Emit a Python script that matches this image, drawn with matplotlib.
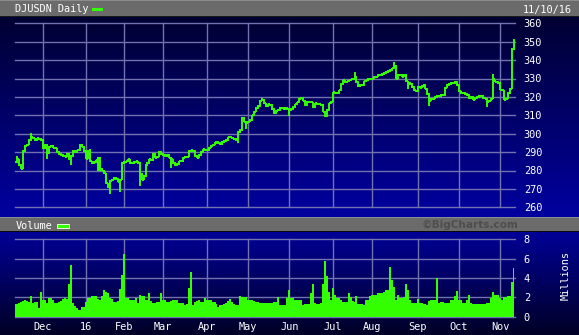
import numpy as np
import pandas as pd
import matplotlib
matplotlib.use('Agg')
import matplotlib.pyplot as plt
from matplotlib.collections import LineCollection
from matplotlib.patches import Rectangle

W, H = 579, 335
GREEN = '#33ff00'
GRID = '#7272b0'
MONO = 'DejaVu Sans Mono'

# ---------------- data ----------------
holidays = ['2015-11-26', '2015-12-25', '2016-01-01', '2016-01-18', '2016-02-15',
            '2016-03-25', '2016-05-30', '2016-07-04', '2016-09-05']
dates = pd.bdate_range('2015-11-10', '2016-11-10', freq='C', holidays=holidays)

close_nov15 = [284.5, 286, 283, 281, 290.5, 293.5, 294, 296.5, 298, 297.5, 296.5, 297.5, 297, 296.5]
close_dec15 = [292, 294, 289.5, 293, 293.5, 292.5, 292, 290, 289, 288.5, 288, 287.5, 289, 286, 288,
               290.5, 290, 291, 291, 294, 293, 290.5]
close_jan16 = [286.5, 290.5, 285, 284, 284.5, 285.5, 287, 281, 280, 278.5, 273, 271, 274.5, 275, 276,
               275.5, 274, 275, 284]
close_feb16 = [284.5, 285, 286, 284, 284, 284.5, 285, 284, 278, 275, 277, 283, 284, 286, 285.5, 289,
               287, 287.5, 290, 289]
close_mar16 = [288.5, 288, 288.5, 287, 286, 284, 283, 283.5, 285, 285, 287, 287.5, 287.5, 290.5, 291,
               290.5, 288, 287, 288.5, 290, 291.5, 291]
close_apr16 = [291, 292.5, 293.5, 294, 295, 295.5, 295, 294.5, 295.5, 296, 296.5, 298, 298, 297.5, 297,
               296.5, 301, 302, 308.5, 306.5, 306]
close_may16 = [306.5, 307.5, 310, 312, 314, 315, 318, 318.5, 316.5, 315, 316, 315.5, 313.5, 311, 312.5,
               313, 314, 314, 313.5, 314, 313.5]
close_jun16 = [313, 313.5, 314.5, 316, 317, 319, 319.5, 318, 315.5, 317.5, 317, 317, 314.5, 316.5, 316,
               316, 315.5, 312, 310.5, 313, 316.5, 317.5]
close_jul16 = [322.5, 322, 322, 323.5, 327, 329, 328, 328.5, 329, 329.5, 330, 331, 328, 326, 326.5,
               326.5, 328.5, 329, 330, 329.5]
close_aug16 = [330, 331, 331, 332, 332, 332.5, 333, 333.5, 334, 334.5, 335.5, 337, 330, 332, 332, 331,
               332, 328.5, 327.5, 327, 325.5, 323.5, 323]
close_sep16 = [325.5, 325, 326, 326.5, 324.5, 321.5, 318, 319, 319, 320, 320.5, 320.5, 321, 321, 325,
               326.5, 327, 327.5, 327.5, 328, 326.5]
close_oct16 = [323, 322, 322, 321.5, 321, 319.5, 320, 318.5, 319.5, 320, 320.5, 320.5, 319.5, 319,
               317.5, 318, 319, 330, 328.5, 328, 327.5]
close_nov16 = [324, 323.5, 318.5, 319, 322, 324.5, 346, 350]

# intraday extremes (high or low) that stick out of the bars
wick_index = [1, 8, 16, 28, 38, 42, 43, 48, 53, 63, 66, 79, 113, 117, 125, 139, 157, 158, 172, 192,
              199, 210, 239, 242, 253]
wick_price = [287.5, 300, 286.5, 283.5, 291.5, 280, 280, 267.6, 268.5, 272, 280, 282, 295.5, 303, 319,
              310, 309.3, 309.3, 333, 338.5, 324.7, 315.6, 314.7, 332, 351.3]

vol_nov15 = [1.3, 1.3, 1.4, 1.55, 1.6, 1.7, 1.6, 1.5, 2.1, 1.4, 1.5, 1.5, 0.9, 2.6]
vol_dec15 = [1.7, 1.7, 1.4, 1.9, 1.9, 1.7, 1.4, 1.4, 1.55, 1.6, 1.8, 1.9, 1.8, 3.4, 5.3, 1.4, 1.1,
             0.9, 0.7, 0.7, 1.0, 1.0]
vol_jan16 = [1.55, 1.9, 1.9, 2.1, 2.1, 2.1, 1.8, 1.7, 2.1, 2.8, 2.6, 2.4, 1.9, 1.8, 1.55, 1.55, 1.6,
             2.9, 4.3]
vol_feb16 = [6.5, 1.9, 1.9, 1.7, 1.7, 1.7, 1.9, 1.4, 2.2, 2.1, 2.1, 1.7, 1.7, 2.4, 1.6, 1.4, 1.4,
             1.55, 1.55, 2.5]
vol_mar16 = [1.7, 1.7, 1.55, 1.55, 1.6, 1.7, 1.7, 1.7, 1.4, 1.4, 1.4, 1.2, 1.3, 3.0, 4.65, 1.2, 1.55,
             1.6, 1.7, 1.55, 1.55, 1.9]
vol_apr16 = [1.7, 1.7, 1.7, 1.55, 1.55, 1.3, 1.0, 1.2, 1.2, 1.3, 1.4, 1.6, 1.8, 1.5, 1.3, 1.2, 1.2,
             2.1, 2.0, 2.0, 2.0]
vol_may16 = [1.7, 1.7, 1.7, 1.6, 1.55, 1.5, 1.4, 1.4, 1.4, 1.4, 1.4, 1.45, 1.45, 1.55, 1.55, 2.0,
             1.2, 1.2, 1.2, 1.2, 1.9]
vol_jun16 = [2.75, 1.9, 1.9, 1.7, 1.7, 1.7, 1.7, 1.2, 1.3, 1.3, 1.3, 2.4, 3.4, 1.4, 1.3, 1.3, 1.4,
             3.4, 5.75, 4.2, 2.6, 1.7]
vol_jul16 = [3.0, 2.2, 1.9, 1.9, 1.7, 1.55, 1.55, 1.55, 2.4, 2.0, 1.6, 1.55, 2.1, 1.3, 1.3, 1.3, 1.2,
             1.7, 1.7, 2.1]
vol_aug16 = [2.2, 2.2, 2.2, 2.4, 2.4, 2.5, 2.6, 2.75, 2.8, 5.1, 3.8, 3.1, 1.7, 2.2, 1.9, 1.9, 2.0,
             3.4, 2.75, 1.7, 1.4, 1.4, 1.4]
vol_sep16 = [1.8, 1.45, 1.45, 1.3, 1.3, 1.2, 1.6, 1.7, 1.7, 1.7, 4.0, 1.4, 1.55, 1.55, 1.4, 1.4, 1.4,
             1.7, 1.7, 2.1, 2.7]
vol_oct16 = [1.7, 1.7, 1.4, 1.4, 1.7, 2.2, 1.4, 1.3, 1.3, 1.3, 1.3, 1.3, 1.3, 1.3, 1.4, 1.4, 1.9, 2.6,
             2.2, 2.2, 2.2]
vol_nov16 = [1.9, 1.7, 2.0, 2.0, 2.1, 2.1, 3.6, 5.0]

price_ticks = [260, 270, 280, 290, 300, 310, 320, 330, 340, 350, 360]
vol_ticks = [0, 2, 4, 6, 8]
month_labels = ['Dec', '16', 'Feb', 'Mar', 'Apr', 'May', 'Jun', 'Jul', 'Aug', 'Sep', 'Oct', 'Nov']

closes = np.array(close_nov15 + close_dec15 + close_jan16 + close_feb16 + close_mar16 + close_apr16 +
                  close_may16 + close_jun16 + close_jul16 + close_aug16 + close_sep16 + close_oct16 +
                  close_nov16)
volumes = np.array(vol_nov15 + vol_dec15 + vol_jan16 + vol_feb16 + vol_mar16 + vol_apr16 + vol_may16 +
                   vol_jun16 + vol_jul16 + vol_aug16 + vol_sep16 + vol_oct16 + vol_nov16)
n = min(len(dates), len(closes), len(volumes))
closes = closes[:n]
volumes = volumes[:n]
dates = dates[:n]
opens = np.r_[closes[0], closes[:-1]]
highs = np.maximum(opens, closes)
lows = np.minimum(opens, closes)
for i, p in zip(wick_index, wick_price):
    if i >= n:
        continue
    if p > highs[i]:
        highs[i] = p
    elif p < lows[i]:
        lows[i] = p

idx = np.arange(n)
months = np.asarray(dates.month)
month_starts = [int(i) for i in idx[1:][months[1:] != months[:-1]]]

# ---------------- figure ----------------
fig = plt.figure(figsize=(W / 100, H / 100), dpi=100)

# background image (pixel coordinates)
bg = np.zeros((H, W, 3))
gray = np.array([107, 107, 107]) / 255
light = np.array([140, 140, 140]) / 255
bg[0:17] = gray
bg[0] = light
bg[16] = np.array([25, 25, 25]) / 255
t = np.linspace(0, 1, 200)[:, None, None]
top = np.array([0, 0, 50]) / 255
bot = np.array([0, 0, 160]) / 255
bg[17:217] = (1 - t) * top + t * bot
bg[217:232] = gray
bg[217] = light
bg[231] = np.array([10, 10, 10]) / 255
t2 = np.linspace(0, 1, H - 232)[:, None, None]
vtop = np.array([0, 0, 150]) / 255
vbot = np.array([0, 0, 38]) / 255
bg[232:] = (1 - t2) * vtop + t2 * vbot

ax_bg = fig.add_axes([0, 0, 1, 1])
ax_bg.imshow(bg, aspect='auto', interpolation='nearest', extent=(0, W, H, 0))
ax_bg.set_xlim(0, W)
ax_bg.set_ylim(H, 0)
ax_bg.axis('off')

txt = dict(color='white', family=MONO, fontsize=7.4)
ax_bg.text(15, 9.5, 'DJUSDN Daily', ha='left', va='center', **txt)
ax_bg.add_patch(Rectangle((92, 7.5), 11, 3.5, facecolor=GREEN, edgecolor='none'))
ax_bg.text(572, 9.5, '11/10/16', ha='right', va='center', **txt)
ax_bg.text(15.5, 226, 'Volume', ha='left', va='center', **txt)
ax_bg.add_patch(Rectangle((56.5, 223.5), 12.5, 4.5, facecolor=GREEN, edgecolor='white', linewidth=0.6))
ax_bg.text(518, 224.5, '\u00a9BigCharts.com', ha='right', va='center', color='#4e4e4e',
           family='DejaVu Sans', fontweight='bold', fontsize=7.6)
ax_bg.text(566, 276, 'Millions', rotation=90, ha='center', va='center', **txt)


def px_axes(x0, y0, x1, y1):
    return fig.add_axes([x0 / W, 1 - y1 / H, (x1 - x0) / W, (y1 - y0) / H])


# price panel
ax_p = px_axes(15, 23.3, 515, 207.3)
ax_p.patch.set_alpha(0)
ax_p.set_xlim(-0.2, n - 0.6)
ax_p.set_ylim(260, 360)
for s in ax_p.spines.values():
    s.set_visible(False)
ax_p.set_xticks(month_starts)
ax_p.set_yticks(price_ticks)
ax_p.grid(True, color=GRID, linewidth=1.0)
for ln in ax_p.get_xgridlines() + ax_p.get_ygridlines():
    ln.set_clip_on(False)
ax_p.set_axisbelow(True)
ax_p.tick_params(axis='x', length=0, labelbottom=False)
ax_p.tick_params(axis='y', length=0, left=False, labelleft=False, right=False, labelright=True,
                 pad=6.3, labelcolor='white', labelsize=7.4)
for lb in ax_p.get_yticklabels():
    lb.set_family(MONO)

segs = []
for i in idx:
    segs.append([(i, lows[i] - 0.4), (i, highs[i] + 0.4)])
    segs.append([(i - 0.5, opens[i]), (i, opens[i])])
    segs.append([(i, closes[i]), (i + 0.5, closes[i])])
ax_p.add_collection(LineCollection(segs, colors=GREEN, linewidths=1.4, capstyle='butt', zorder=3))

# volume panel
ax_v = px_axes(15, 239.3, 515, 316.7)
ax_v.patch.set_alpha(0)
ax_v.set_xlim(-0.2, n - 0.6)
ax_v.set_ylim(0, 8)
for s in ax_v.spines.values():
    s.set_visible(False)
ax_v.set_xticks(month_starts)
ax_v.set_xticklabels(month_labels[:len(month_starts)])
ax_v.set_yticks(vol_ticks)
ax_v.grid(True, color=GRID, linewidth=1.0)
for ln in ax_v.get_xgridlines() + ax_v.get_ygridlines():
    ln.set_clip_on(False)
ax_v.set_axisbelow(True)
ax_v.tick_params(axis='x', length=0, pad=4.0, labelcolor='white', labelsize=7.4)
ax_v.tick_params(axis='y', length=0, left=False, labelleft=False, labelright=True,
                 pad=6.3, labelcolor='white', labelsize=7.4)
for lb in ax_v.get_xticklabels() + ax_v.get_yticklabels():
    lb.set_family(MONO)
ax_v.fill_between(idx, 0, volumes, step='mid', color=GREEN, linewidth=0, zorder=3)

fig.savefig('out.png', dpi=100)
